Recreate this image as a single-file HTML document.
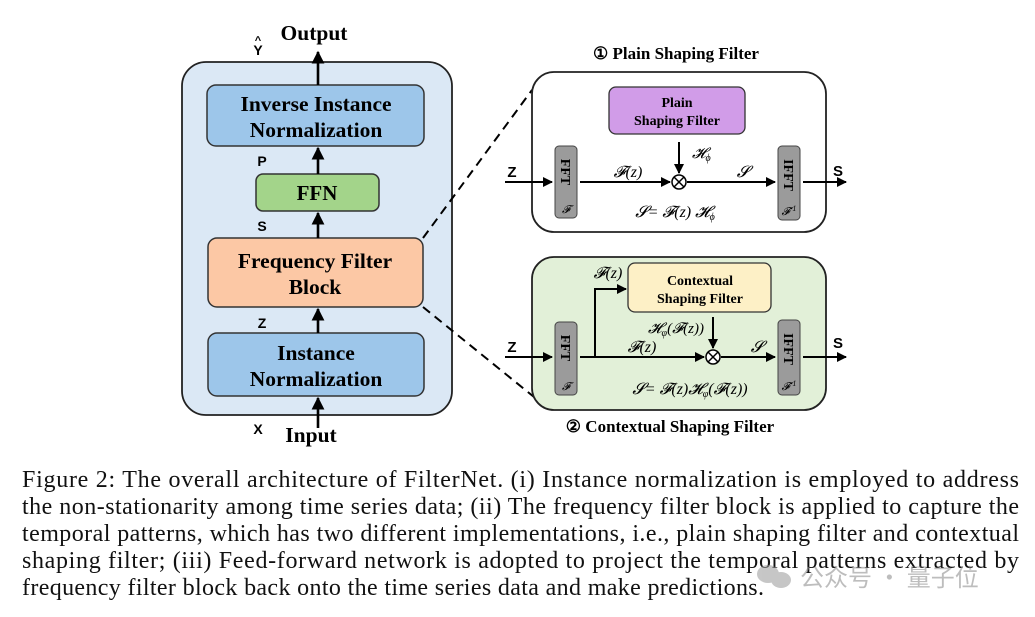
<!DOCTYPE html>
<html><head><meta charset="utf-8"><style>
body{margin:0;background:#fff;}
svg{display:block;}
.b{font-family:"Liberation Serif",serif;font-weight:bold;}
.s{font-family:"Liberation Sans",sans-serif;font-weight:bold;}
.m{font-family:"Liberation Serif","DejaVu Serif",serif;font-style:italic;}
.c{font-family:"Liberation Serif",serif;font-size:24px;fill:#111;}
</style></head><body>
<svg width="1035" height="617" viewBox="0 0 1035 617" xmlns="http://www.w3.org/2000/svg">
<defs>
<marker id="ar" viewBox="0 0 10 10" refX="9" refY="5" markerWidth="5" markerHeight="5" orient="auto"><path d="M0,0 L10,5 L0,10 z" fill="#000"/></marker>
</defs>
<rect x="182" y="62" width="270" height="353" rx="24" fill="#dbe8f5" stroke="#222" stroke-width="1.8"/>
<rect x="207" y="85" width="217" height="61" rx="9" fill="#9dc6ea" stroke="#333" stroke-width="1.5"/>
<text class="b" x="316" y="111" font-size="21.5" text-anchor="middle">Inverse Instance</text>
<text class="b" x="316" y="137" font-size="21.5" text-anchor="middle">Normalization</text>
<rect x="256" y="174" width="123" height="37" rx="7" fill="#a3d48a" stroke="#333" stroke-width="1.5"/>
<text class="b" x="317" y="200" font-size="21" text-anchor="middle">FFN</text>
<rect x="208" y="238" width="215" height="69" rx="9" fill="#fcc8a5" stroke="#333" stroke-width="1.5"/>
<text class="b" x="315" y="268" font-size="21.5" text-anchor="middle">Frequency Filter</text>
<text class="b" x="315" y="294" font-size="21.5" text-anchor="middle">Block</text>
<rect x="208" y="333" width="216" height="63" rx="9" fill="#9dc6ea" stroke="#333" stroke-width="1.5"/>
<text class="b" x="316" y="360" font-size="21.5" text-anchor="middle">Instance</text>
<text class="b" x="316" y="386" font-size="21.5" text-anchor="middle">Normalization</text>
<g stroke="#000" stroke-width="2.6" marker-end="url(#ar)">
<line x1="318" y1="85" x2="318" y2="52"/>
<line x1="318" y1="174" x2="318" y2="148"/>
<line x1="318" y1="238" x2="318" y2="213"/>
<line x1="318" y1="333" x2="318" y2="309"/>
<line x1="318" y1="428" x2="318" y2="398"/>
</g>
<text class="b" x="314" y="40" font-size="21.5" text-anchor="middle">Output</text>
<text class="s" x="258" y="55" font-size="14" text-anchor="middle">Y</text>
<text class="s" x="258" y="44" font-size="11" text-anchor="middle">^</text>
<text class="s" x="262" y="166" font-size="14" text-anchor="middle">P</text>
<text class="s" x="262" y="231" font-size="14" text-anchor="middle">S</text>
<text class="s" x="262" y="328" font-size="14" text-anchor="middle">Z</text>
<text class="s" x="258" y="434" font-size="14" text-anchor="middle">X</text>
<text class="b" x="311" y="442" font-size="21.5" text-anchor="middle">Input</text>
<line x1="423" y1="238" x2="532" y2="90" stroke="#000" stroke-width="2" stroke-dasharray="9,6"/>
<line x1="423" y1="307" x2="534" y2="397" stroke="#000" stroke-width="2" stroke-dasharray="9,6"/>
<text class="b" x="676" y="59" font-size="17" text-anchor="middle">① Plain Shaping Filter</text>
<rect x="532" y="72" width="294" height="160" rx="22" fill="#fff" stroke="#222" stroke-width="1.8"/>
<rect x="609" y="87" width="136" height="47" rx="7" fill="#d19ce8" stroke="#333" stroke-width="1.3"/>
<text class="b" x="677" y="107" font-size="14" text-anchor="middle">Plain</text>
<text class="b" x="677" y="125" font-size="14" text-anchor="middle">Shaping Filter</text>
<rect x="555" y="146" width="22" height="72" rx="4" fill="#9b9b9b" stroke="#444" stroke-width="1"/>
<text class="b" transform="translate(561,172) rotate(90)" font-size="14" text-anchor="middle">FFT</text>
<text class="m" x="566" y="213" font-size="11" text-anchor="middle">𝓕</text>
<rect x="778" y="146" width="22" height="74" rx="4" fill="#9b9b9b" stroke="#444" stroke-width="1"/>
<text class="b" transform="translate(784,175) rotate(90)" font-size="14" text-anchor="middle">IFFT</text>
<text class="m" x="789" y="215" font-size="11" text-anchor="middle">𝓕<tspan font-size="8" dy="-4">-1</tspan></text>
<g stroke="#000" stroke-width="2" marker-end="url(#ar)">
<line x1="505" y1="182" x2="552" y2="182"/>
<line x1="580" y1="182" x2="670" y2="182"/>
<line x1="679" y1="142" x2="679" y2="173"/>
<line x1="687" y1="182" x2="775" y2="182"/>
<line x1="803" y1="182" x2="846" y2="182"/>
</g>
<circle cx="679" cy="182" r="7" fill="#fff" stroke="#000" stroke-width="1.5"/>
<path d="M674,177 L684,187 M684,177 L674,187" stroke="#000" stroke-width="1.5"/>
<text class="s" x="512" y="177" font-size="15" text-anchor="middle">Z</text>
<text class="s" x="838" y="176" font-size="15" text-anchor="middle">S</text>
<text class="m" x="628" y="177" font-size="16" text-anchor="middle">𝓕(z)</text>
<text class="m" x="692" y="158" font-size="15">𝓗<tspan font-size="10" dy="3">ϕ</tspan></text>
<text class="m" x="743" y="177" font-size="16" text-anchor="middle">𝓢</text>
<text class="m" x="675" y="217" font-size="16" text-anchor="middle">𝓢= 𝓕(z) 𝓗<tspan font-size="10" dy="3">ϕ</tspan></text>
<rect x="532" y="257" width="294" height="153" rx="22" fill="#e2f0d8" stroke="#222" stroke-width="1.8"/>
<rect x="628" y="263" width="143" height="49" rx="7" fill="#fdf0c6" stroke="#333" stroke-width="1.3"/>
<text class="b" x="700" y="285" font-size="14" text-anchor="middle">Contextual</text>
<text class="b" x="700" y="303" font-size="14" text-anchor="middle">Shaping Filter</text>
<rect x="555" y="322" width="22" height="73" rx="4" fill="#9b9b9b" stroke="#444" stroke-width="1"/>
<text class="b" transform="translate(561,348) rotate(90)" font-size="14" text-anchor="middle">FFT</text>
<text class="m" x="566" y="390" font-size="11" text-anchor="middle">𝓕</text>
<rect x="778" y="320" width="22" height="75" rx="4" fill="#9b9b9b" stroke="#444" stroke-width="1"/>
<text class="b" transform="translate(784,349) rotate(90)" font-size="14" text-anchor="middle">IFFT</text>
<text class="m" x="789" y="390" font-size="11" text-anchor="middle">𝓕<tspan font-size="8" dy="-4">-1</tspan></text>
<g stroke="#000" stroke-width="2" fill="none">
<polyline points="595,357 595,289 626,289" marker-end="url(#ar)"/>
<line x1="505" y1="357" x2="552" y2="357" marker-end="url(#ar)"/>
<line x1="580" y1="357" x2="704" y2="357" marker-end="url(#ar)"/>
<line x1="713" y1="317" x2="713" y2="348" marker-end="url(#ar)"/>
<line x1="721" y1="357" x2="775" y2="357" marker-end="url(#ar)"/>
<line x1="803" y1="357" x2="846" y2="357" marker-end="url(#ar)"/>
</g>
<circle cx="713" cy="357" r="7" fill="#fff" stroke="#000" stroke-width="1.5"/>
<path d="M708,352 L718,362 M718,352 L708,362" stroke="#000" stroke-width="1.5"/>
<text class="s" x="512" y="352" font-size="15" text-anchor="middle">Z</text>
<text class="s" x="838" y="348" font-size="15" text-anchor="middle">S</text>
<text class="m" x="608" y="278" font-size="16" text-anchor="middle">𝓕(z)</text>
<text class="m" x="642" y="352" font-size="16" text-anchor="middle">𝓕(z)</text>
<text class="m" x="676" y="333" font-size="15" text-anchor="middle">𝓗<tspan font-size="10" dy="3">φ</tspan><tspan dy="-3">(𝓕(z))</tspan></text>
<text class="m" x="757" y="352" font-size="16" text-anchor="middle">𝓢</text>
<text class="m" x="690" y="394" font-size="16" text-anchor="middle">𝓢= 𝓕(z)𝓗<tspan font-size="10" dy="3">φ</tspan><tspan dy="-3">(𝓕(z))</tspan></text>
<text class="b" x="670" y="432" font-size="17" text-anchor="middle">② Contextual Shaping Filter</text>
<text class="c" x="22" y="487" textLength="997" lengthAdjust="spacing">Figure 2: The overall architecture of FilterNet. (i) Instance normalization is employed to address</text>
<text class="c" x="22" y="514" textLength="997" lengthAdjust="spacing">the non-stationarity among time series data; (ii) The frequency filter block is applied to capture the</text>
<text class="c" x="22" y="541" textLength="997" lengthAdjust="spacing">temporal patterns, which has two different implementations, i.e., plain shaping filter and contextual</text>
<text class="c" x="22" y="568" textLength="997" lengthAdjust="spacing">shaping filter; (iii) Feed-forward network is adopted to project the temporal patterns extracted by</text>
<text class="c" x="22" y="595" textLength="742" lengthAdjust="spacing">frequency filter block back onto the time series data and make predictions.</text>
<g opacity="0.55">
<ellipse cx="768" cy="574" rx="11" ry="9" fill="#999"/>
<ellipse cx="781" cy="580" rx="10" ry="8" fill="#999"/>
<text x="800" y="586" font-family="'Noto Sans CJK SC',sans-serif" font-size="24" fill="#888">公众号 · 量子位</text>
</g>
</svg>
</body></html>
